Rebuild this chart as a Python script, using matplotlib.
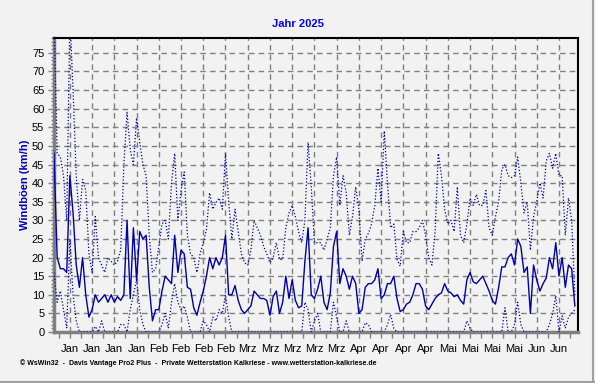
import matplotlib
matplotlib.use("Agg")
import matplotlib.pyplot as plt
from matplotlib.lines import Line2D
from matplotlib.ticker import FixedLocator, MultipleLocator

plt.rcParams['font.family'] = ['Liberation Sans', 'DejaVu Sans']

# Tageswerte 1. Jan 2025 .. 14. Jun 2025 (Tag 0 = 1. Jan)
boeen_mittel = [
    48, 20, 17, 17, 16, 42, 32, 18, 12, 20, 10, 4, 6, 10, 8, 9, 10, 8, 10, 8,
    9.5, 8.5, 10, 30, 9, 28, 14, 27, 25, 26, 12, 3, 6, 6, 11, 15, 14, 13, 26, 16,
    22, 21, 12, 11.5, 6.5, 4.5, 8, 11, 15, 20, 17, 20, 18, 20, 26, 10, 10, 12.5, 8.5, 6,
    5, 6, 7, 11, 10, 9, 9, 8.5, 4.5, 9.5, 11, 5, 8, 15, 9, 14, 8.5, 6.5, 7, 19,
    28, 10, 9, 11.5, 15, 8, 6, 10.5, 23, 27, 13, 17, 15, 11.5, 15, 13, 5, 6, 12, 13,
    13, 14, 17, 9, 10, 13, 13, 15, 9, 5.5, 6, 7.5, 8, 10, 13, 13, 11.5, 7, 6, 7.5,
    9, 10, 10.5, 13, 11, 10.5, 9.5, 10, 8.5, 7.5, 14, 16, 13.5, 13, 14, 15, 13, 11, 8.5, 7.5,
    12, 17.5, 17.5, 20, 21, 18, 25, 23, 16, 17.5, 5, 18, 14, 11, 13, 14.5, 20, 17, 24, 15,
    20, 12, 18, 17, 7,
]
boeen_max = [
    85, 48, 47, 42, 30, 85, 65, 42, 30, 41, 38, 21, 16, 31, 20, 18, 16, 20, 19, 18,
    19, 22, 45, 59, 49, 45, 57.5, 51, 45, 42, 26, 16, 17, 23, 29, 30, 25, 40, 48, 30,
    38, 43, 26, 21, 20, 16, 21, 24, 27.6, 37.4, 33, 34.8, 36, 33, 48, 35, 25, 33, 27, 21,
    18.6, 18, 22, 30, 28, 26, 23, 21, 18.6, 20, 24, 19.5, 19.5, 28, 32, 34, 31, 27, 24, 30,
    51, 39, 24, 24, 24, 22, 25, 28, 42, 47, 34, 42, 37.5, 26, 31, 39, 33, 19, 25, 26.5,
    29, 34, 44, 35, 54, 40, 28, 29, 19.5, 17.7, 27, 24, 24, 27, 27, 28, 30, 26, 20, 18,
    27, 48, 42, 33, 29, 30, 27, 39, 26, 24, 29, 36, 34, 37, 34, 34, 38, 28, 26, 31,
    35, 43.7, 45, 42, 41.5, 42, 47, 40, 32, 35, 22, 31, 35, 40, 36, 46, 48, 44, 48, 42,
    42, 26, 36, 30, 10,
]
boeen_min = [
    16, 8, 11, 6, 1, 25, 10, 3, 0, 0, 0, 0, 0, 1.5, 0, 3, 0, 0, 0, 0,
    0, 2, 2, 0, 6, 10, 14, 6, 2, 0, 0, 0, 0, 0, 2, 5, 1, 8, 13, 8,
    6, 7, 4, 0, 0, 0, 0, 3, 2, 0, 4, 3, 6, 5, 10, 4, 0, 0, 0, 0,
    0, 0, 0, 0, 0, 0, 0, 0, 0, 0, 0, 0, 0, 0, 0, 0, 0, 0, 0, 8,
    6, 0, 3, 5, 0, 0, 0, 0, 8, 4, 0, 0, 3, 0, 0, 0, 0, 0, 2.5, 2,
    0, 0, 0, 0, 0, 2, 4.7, 1, 0, 0, 0, 0, 0, 0, 0, 0, 0, 0, 0, 0,
    0, 0, 0, 0, 0, 0, 0, 0, 0, 0, 3, 1, 0, 0, 0, 0, 0, 0, 0, 0,
    0, 0, 6.5, 0, 0, 2, 8, 2, 0, 0, 0, 0, 0, 0, 0, 0, 2, 5, 9.7, 0,
    4.3, 1, 4, 5, 6,
]
# Montage (Gitterlinien) und Monatsnamen
wochen_tage = [5, 12, 19, 26, 33, 40, 47, 54, 61, 68, 75, 82, 89, 96, 103, 110,
               117, 124, 131, 138, 145, 152, 159]
wochen_labels = ['Jan', 'Jan', 'Jan', 'Jan', 'Feb', 'Feb', 'Feb', 'Feb',
                 'Mrz', 'Mrz', 'Mrz', 'Mrz', 'Mrz', 'Apr', 'Apr', 'Apr', 'Apr',
                 'Mai', 'Mai', 'Mai', 'Mai', 'Jun', 'Jun']

tage = list(range(len(boeen_mittel)))
bg = '#f2f2f2'
blau = '#0000a8'

fig = plt.figure(figsize=(5.95, 3.83), dpi=100, facecolor=bg)
ax = fig.add_axes([54 / 595, 51 / 383, 523.7 / 595, 294 / 383], facecolor=bg)

ax.plot(tage, boeen_max, color=blau, lw=0.9, ls=(0, (1, 1.6)), zorder=3)
ax.plot(tage, boeen_min, color=blau, lw=0.9, ls=(0, (1, 1.6)), zorder=3)
ax.plot(tage, boeen_mittel, color=blau, lw=1.0, zorder=4)

ax.set_xlim(0, 164.9)
ax.set_ylim(0, 79)

ax.xaxis.set_major_locator(FixedLocator(wochen_tage))
ax.xaxis.set_minor_locator(FixedLocator([t - 3.5 for t in wochen_tage] + [162.5]))
ax.set_xticklabels(wochen_labels)
ax.yaxis.set_major_locator(MultipleLocator(5))
ax.yaxis.set_minor_locator(MultipleLocator(1))

ax.grid(True, which='major', color='#808080', ls=(0, (4, 3)), lw=1)
ax.tick_params(axis='both', which='major', length=4, width=1, color='#808080',
               labelsize=8, pad=3)
ax.tick_params(axis='y', which='minor', length=2, width=1, color='#808080')
ax.tick_params(axis='x', which='minor', length=4, width=1, color='#808080')
ax.tick_params(axis='x', which='major', pad=5)

for s in ['left', 'bottom']:
    ax.spines[s].set_color('#808080')
    ax.spines[s].set_linewidth(2.5)
for s in ['top', 'right']:
    ax.spines[s].set_color('black')
    ax.spines[s].set_linewidth(1.5)

fig.text(0.5, 1 - 24 / 383, 'Jahr 2025', ha='center', va='center',
         color='#0000ff', fontweight='bold', fontsize=8)
fig.text(25 / 595, 1 - 185 / 383, 'Windböen (km/h)', ha='center', va='center',
         rotation=90, color='#0000b4', fontweight='bold', fontsize=8)
fig.text(20 / 595, 1 - 363 / 383,
         '© WsWin32  -  Davis Vantage Pro2 Plus  -  Private Wetterstation Kalkriese - www.wetterstation-kalkriese.de',
         ha='left', va='center', color='black', fontweight='bold', fontsize=5)

fig.add_artist(Line2D([592.5 / 595] * 2, [0, 1], color='#a0a0a0', lw=1.5))
fig.add_artist(Line2D([0, 1], [1.5 / 383] * 2, color='#a0a0a0', lw=1.5))

fig.savefig('out.png', dpi=100, facecolor=bg)
